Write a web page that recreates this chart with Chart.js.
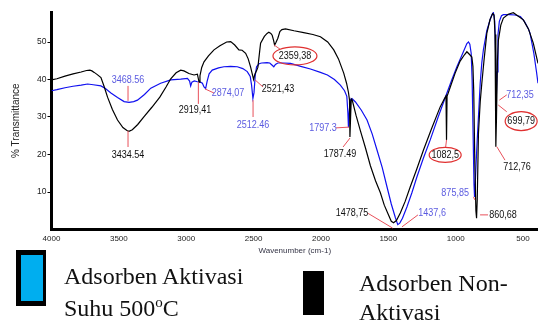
<!DOCTYPE html>
<html>
<head>
<meta charset="utf-8">
<script src="https://cdn.jsdelivr.net/npm/chart.js@4.4.1/dist/chart.umd.min.js"></script>
<style>
  body { margin: 0; background: #fff; }
  #wrap { position: relative; width: 538px; height: 327px; overflow: hidden; }
  #grafico { position: absolute; left: 0; top: 0; }
  .leg { position: absolute; font-family: "Liberation Serif", "Times New Roman", serif; font-size: 24px; color: #111; white-space: nowrap; }
  .sup { font-size: 15px; position: relative; top: -9px; }
</style>
</head>
<body>
<div id="wrap">
  <canvas id="grafico" width="538" height="256"></canvas>

  <div style="position:absolute;left:16px;top:250px;width:30px;height:56px;box-sizing:border-box;border-style:solid;border-color:#000;border-width:5px 3px 5px 5px;background:#00aeef"></div>
  <div class="leg" style="left:64px;top:260px;line-height:32px">Adsorben Aktivasi<br>Suhu 500<span class="sup">o</span>C</div>

  <div style="position:absolute;left:303px;top:271px;width:21px;height:44px;background:#000"></div>
  <div class="leg" style="left:359px;top:269px;line-height:28.5px">Adsorben Non-<br>Aktivasi</div>
</div>

<script>
// eixos
const xTicks = [4000, 3500, 3000, 2500, 2000, 1500, 1000, 500]
const yTicks = [10, 20, 30, 40, 50]

// Adsorben Non-Aktivasi (preto)
const blackWn = [4000, 3960, 3900, 3840, 3780, 3740, 3715, 3700, 3683, 3660, 3633, 3610, 3584, 3548, 3510, 3470, 3440, 3425, 3400, 3360,
  3313, 3255, 3196, 3150, 3115, 3075, 3041, 3017, 2980, 2942, 2917, 2910, 2905, 2898, 2885, 2868, 2835, 2794, 2750, 2700,
  2670, 2640, 2609, 2585, 2559, 2540, 2522, 2510, 2500, 2490, 2476, 2468, 2455, 2448, 2420, 2400, 2387, 2372, 2362, 2352,
  2344, 2335, 2320, 2305, 2290, 2263, 2200, 2128, 2060, 2004, 1950, 1905, 1870, 1831, 1810, 1796, 1788, 1785, 1780, 1775,
  1768, 1740, 1707, 1670, 1633, 1595, 1559, 1530, 1500, 1478, 1461, 1440, 1411, 1375, 1337, 1290, 1239, 1180, 1115, 1085,
  1072, 1068, 1064, 1040, 1004, 967, 935, 917, 895, 880, 872, 866, 858, 850, 845, 840, 831, 818, 806, 790,
  769, 745, 725, 715, 708, 702, 697, 690, 683, 665, 646, 610, 572, 540, 498, 460, 424, 389]
const blackT = [39.9, 40.2, 40.9, 41.5, 42.0, 42.4, 42.5, 42.3, 41.9, 41.3, 40.5, 38.2, 35.3, 32.0, 29.2, 27.2, 26.4, 26.2, 26.6, 28.0,
  30.1, 32.6, 35.3, 38.0, 40.2, 41.8, 42.5, 42.3, 41.6, 41.2, 41.4, 40.2, 39.3, 41.0, 43.2, 44.7, 46.3, 47.9, 49.0, 50.0,
  50.1, 49.2, 47.9, 47.8, 47.0, 45.5, 43.3, 41.5, 40.0, 41.5, 42.5, 43.3, 47.5, 49.7, 51.5, 52.3, 52.6, 52.3, 51.8, 50.5,
  49.2, 49.8, 51.0, 52.8, 53.3, 53.5, 53.0, 52.5, 52.0, 51.4, 50.0, 47.9, 45.5, 41.7, 39.0, 36.6, 34.5, 24.7, 30.0, 34.8,
  34.5, 30.5, 26.3, 21.8, 17.0, 13.0, 9.8, 6.5, 4.0, 2.2, 1.8, 2.4, 4.4, 7.5, 11.4, 16.0, 21.2, 26.8, 32.7, 34.8,
  35.6, 23.9, 35.5, 38.0, 41.7, 44.9, 46.6, 47.4, 46.6, 46.0, 43.5, 37.0, 18.0, 5.0, 3.0, 8.0, 25.6, 34.0, 39.0, 45.0,
  52.3, 56.0, 57.6, 57.2, 52.0, 22.1, 30.0, 45.0, 50.5, 54.5, 56.4, 57.4, 57.8, 57.0, 55.9, 53.5, 49.7, 44.3]

// Adsorben Aktivasi Suhu 500 C (azul)
const blueWn = [4000, 3960, 3900, 3840, 3780, 3732, 3690, 3633, 3600, 3559, 3510, 3461, 3424, 3390, 3362, 3310, 3263, 3190, 3115, 3041,
  2991, 2975, 2967, 2958, 2940, 2917, 2895, 2880, 2868, 2856, 2845, 2830, 2807, 2760, 2720, 2670, 2621, 2580, 2547, 2525,
  2515, 2505, 2497, 2488, 2478, 2460, 2440, 2400, 2380, 2362, 2350, 2338, 2320, 2280, 2226, 2150, 2078, 2004, 1952, 1900,
  1856, 1825, 1808, 1800, 1796, 1790, 1782, 1770, 1744, 1700, 1658, 1620, 1584, 1545, 1510, 1478, 1448, 1430, 1415, 1395,
  1362, 1325, 1288, 1240, 1189, 1130, 1065, 1030, 991, 950, 917, 905, 895, 885, 878, 870, 864, 860, 855, 848,
  840, 831, 818, 806, 794, 769, 744, 730, 720, 710, 703, 698, 693, 686, 676, 660, 646, 600, 560, 520,
  490, 460, 448, 420, 400, 389]
const blueT = [37.0, 37.3, 37.8, 38.2, 38.5, 38.8, 38.6, 38.3, 37.6, 36.4, 35.2, 34.1, 33.9, 34.1, 34.5, 36.0, 37.7, 39.0, 39.9, 40.1,
  40.3, 39.6, 38.3, 39.3, 39.6, 39.4, 39.3, 39.0, 38.0, 37.6, 39.5, 41.5, 42.5, 43.1, 43.4, 43.5, 43.4, 42.9, 42.1, 40.8,
  38.5, 35.0, 36.5, 41.0, 43.4, 44.2, 44.4, 44.5, 44.4, 43.8, 43.4, 44.0, 44.4, 44.4, 44.3, 43.5, 42.8, 41.9, 41.2, 40.0,
  38.5, 37.0, 35.5, 31.0, 27.3, 31.5, 34.6, 34.9, 34.0, 31.8, 29.2, 25.5, 21.2, 16.5, 11.4, 6.8, 3.2, 1.3, 1.7, 3.0,
  6.0, 9.8, 14.0, 19.0, 23.9, 30.0, 36.4, 39.8, 43.4, 46.8, 49.6, 50.0, 49.4, 47.0, 40.0, 24.0, 12.0, 8.7, 12.0, 18.0,
  24.0, 30.0, 39.0, 44.5, 48.0, 53.0, 56.0, 57.4, 57.8, 55.5, 46.0, 35.4, 42.0, 52.0, 55.5, 57.0, 57.3, 57.3, 57.2, 56.8,
  55.5, 53.5, 52.3, 47.0, 42.0, 39.0]

// rotulos dos picos: texto, posicao do texto, linha vermelha
const picos = [
  { txt: '3468.56', cor: '#5b5be0', x: 3432, y: 39.9, l: [3432, 38.3, 3432, 34.3] },
  { txt: '3434.54', cor: '#111', x: 3432, y: 19.9, l: [3432, 26.3, 3432, 22.0] },
  { txt: '2919,41', cor: '#111', x: 2935, y: 31.9, l: [2910, 39.3, 2910, 33.5] },
  { txt: '2874,07', cor: '#5b5be0', x: 2690, y: 36.4, l: [2861, 37.5, 2794, 36.4] },
  { txt: '2512.46', cor: '#5b5be0', x: 2504, y: 27.9, l: [2504, 34.5, 2504, 30.0] },
  { txt: '2521,43', cor: '#111', x: 2319, y: 37.5, l: [2489, 39.9, 2430, 38.0] },
  { txt: '2359,38', cor: '#111', x: 2193, y: 46.3, l: [2348, 49.2, 2304, 48.1], oval: [22, 9] },
  { txt: '1797.3', cor: '#5b5be0', x: 1985, y: 27.1, l: [1888, 27.1, 1792, 27.3] },
  { txt: '1787.49', cor: '#111', x: 1858, y: 20.1, l: [1836, 22.0, 1784, 24.4] },
  { txt: '1478,75', cor: '#111', x: 1770, y: 4.3, l: [1650, 4.3, 1469, 0.4] },
  { txt: '1437,6', cor: '#5b5be0', x: 1175, y: 4.3, l: [1280, 3.9, 1399, 0.7] },
  { txt: '1082,5', cor: '#111', x: 1078, y: 19.9, l: [1068, 23.9, 1075, 21.8], oval: [16, 7.5] },
  { txt: '875,85', cor: '#5b5be0', x: 1004, y: 9.7, l: [868, 8.7, 858, 7.9] },
  { txt: '860,68', cor: '#111', x: 649, y: 3.9, l: [819, 3.9, 760, 3.9] },
  { txt: '712,35', cor: '#5b5be0', x: 522, y: 35.9, l: [676, 34.5, 621, 35.9] },
  { txt: '699,79', cor: '#111', x: 514, y: 28.9, l: [684, 33.2, 621, 31.4], oval: [16, 9.5] },
  { txt: '712,76', cor: '#111', x: 545, y: 16.7, l: [695, 22.1, 634, 18.5] }
]

function pontos(wn, t) {
  return wn.map((v, i) => ({ x: v, y: t[i] }))
}

const rotulosPicos = {
  id: 'rotulosPicos',
  afterDatasetsDraw(chart) {
    const ctx = chart.ctx
    const sx = chart.scales.x
    const sy = chart.scales.y
    ctx.save()
    for (const p of picos) {
      ctx.strokeStyle = '#e8505a'
      ctx.lineWidth = 1
      ctx.beginPath()
      ctx.moveTo(sx.getPixelForValue(p.l[0]), sy.getPixelForValue(p.l[1]))
      ctx.lineTo(sx.getPixelForValue(p.l[2]), sy.getPixelForValue(p.l[3]))
      ctx.stroke()

      const px = sx.getPixelForValue(p.x)
      const py = sy.getPixelForValue(p.y)
      if (p.oval) {
        ctx.strokeStyle = '#e03030'
        ctx.lineWidth = 1.2
        ctx.beginPath()
        ctx.ellipse(px, py, p.oval[0], p.oval[1], 0, 0, Math.PI * 2)
        ctx.stroke()
      }
      ctx.save()
      ctx.translate(px, py)
      ctx.scale(0.82, 1)
      ctx.fillStyle = p.cor
      ctx.font = '11px "Liberation Sans", Arial, sans-serif'
      ctx.textAlign = 'center'
      ctx.textBaseline = 'middle'
      ctx.fillText(p.txt, 0, 0)
      ctx.restore()
    }
    ctx.restore()
  }
}

Chart.defaults.font.family = '"Liberation Sans", Arial, sans-serif'
Chart.defaults.color = '#222'

const ctx = document.getElementById('grafico')
const grafico = new Chart(ctx, {
  type: 'line',
  data: {
    datasets: [
      {
        label: 'Adsorben Non-Aktivasi',
        data: pontos(blackWn, blackT),
        borderColor: '#000000',
        borderWidth: 1.2,
        pointRadius: 0,
        tension: 0
      },
      {
        label: 'Adsorben Aktivasi Suhu 500oC',
        data: pontos(blueWn, blueT),
        borderColor: '#1010f0',
        borderWidth: 1.2,
        pointRadius: 0,
        tension: 0
      }
    ]
  },
  options: {
    responsive: false,
    animation: false,
    devicePixelRatio: 1,
    layout: { padding: { top: 12, left: 0, right: 0, bottom: 0 } },
    plugins: {
      legend: { display: false },
      tooltip: { enabled: false }
    },
    scales: {
      x: {
        type: 'linear',
        reverse: true,
        min: 389,
        max: 4000,
        afterBuildTicks: (s) => { s.ticks = xTicks.map(v => ({ value: v })) },
        afterFit: (s) => { s.height = 26.5 },
        grid: { display: false, drawTicks: false },
        border: { display: true, color: '#000', width: 3 },
        ticks: { autoSkip: false, maxRotation: 0, padding: 4, font: { size: 8 }, color: '#222', callback: (v) => String(v) },
        title: { display: true, text: 'Wavenumber (cm-1)', font: { size: 8 }, color: '#334', padding: { top: 0, bottom: 0.5 } }
      },
      y: {
        min: 0,
        max: 58,
        afterBuildTicks: (s) => { s.ticks = yTicks.map(v => ({ value: v })) },
        afterFit: (s) => { s.width = 51.5 },
        grid: { display: true, drawOnChartArea: false, drawTicks: true, tickLength: 4, color: '#000' },
        border: { display: true, color: '#000', width: 3 },
        ticks: { padding: 1, font: { size: 8.5 }, color: '#222', callback: (v) => String(v) },
        title: { display: true, text: '% Transmittance', font: { size: 10 }, color: '#222', padding: { top: 10, bottom: 0 } }
      }
    }
  },
  plugins: [rotulosPicos]
})
</script>
</body>
</html>
